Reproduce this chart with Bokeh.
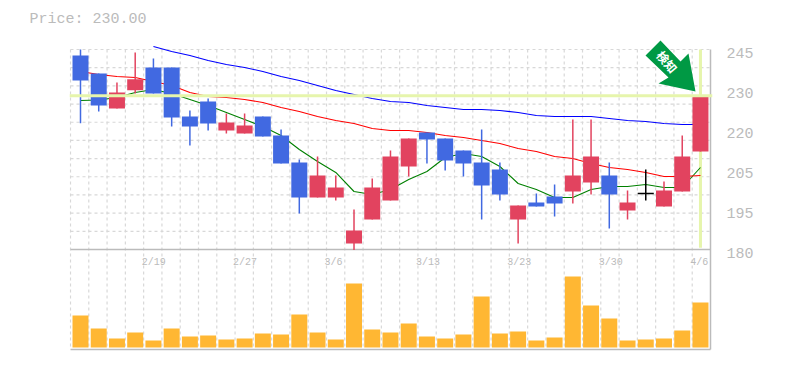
from bokeh.plotting import figure
from bokeh.core.properties import value
from bokeh.models import (ColumnDataSource, Range1d, FixedTicker, LinearAxis, Span,
                          PolyAnnotation, Label)
from bokeh.embed import file_html
from bokeh.resources import INLINE

opens  = [243.05,237.2,225.83,231.77,239.15,239.15,223.23,228.1,218.68,217.7,223.23,217.05,208.28,196.9,196.9,181.95,189.75,195.93,206.98,218.03,216.08,212.18,208.28,206.0,189.75,195.28,197.23,198.85,201.78,204.05,192.68,198.2,193.98,198.85,211.85]
closes = [234.93,226.8,231.03,235.35,230.7,222.9,219.98,220.95,221.28,220.3,216.73,207.95,196.9,204.05,200.15,186.18,200.15,210.23,216.08,215.75,208.93,207.95,200.8,197.88,194.3,193.98,194.95,204.05,210.23,197.88,195.28,198.2,199.18,210.23,230.05]
highs  = [245.0,237.2,234.28,244.03,242.08,239.15,225.18,229.08,224.2,224.2,223.23,219.0,209.25,210.23,204.05,193.0,203.08,212.18,216.08,218.03,216.08,212.18,219.0,208.28,194.3,198.2,201.13,222.25,222.25,208.28,199.18,206.0,202.1,217.05,230.05]
lows   = [221.05,224.85,225.83,230.7,230.7,219.98,213.8,218.68,217.7,217.7,216.73,207.95,191.7,196.9,195.93,179.8,189.75,195.93,203.73,207.95,205.68,203.73,189.75,195.93,181.95,193.98,190.73,194.95,197.88,186.83,189.75,195.93,193.98,198.85,211.85]
volume = [32,19,9,15,7,19,11,12,8,9,14,13,33,15,8,64,18,15,24,11,9,13,51,14,16,7,10,71,42,29,7,8,9,17,45]
ma5  = [228.43,228.59,229.4,231.03,232.0,230.7,228.75,226.8,224.53,222.25,219.98,217.05,212.5,208.6,205.03,198.85,197.88,199.5,202.75,205.35,209.9,211.2,210.23,206.98,201.45,199.5,196.9,196.9,199.5,200.48,200.48,201.13,200.15,200.15,206.65]
ma25 = [237.85,236.88,236.23,235.9,234.6,233.3,231.03,229.73,229.4,228.75,227.78,226.15,224.85,223.23,221.93,220.95,219.33,218.68,218.68,218.03,217.05,216.4,215.43,214.45,212.83,211.85,210.23,209.58,207.95,206.65,206.0,205.03,203.73,203.73,204.05]
ma75 = [245.98,244.35,243.05,241.43,240.13,239.15,237.85,236.23,234.93,233.3,231.68,230.38,229.08,228.1,227.78,226.8,226.15,225.5,225.5,225.18,224.53,223.55,223.23,223.23,223.23,222.58,221.93,221.6,220.95,220.63,220.63]
ma75_start = 4
date_ticks = [4, 9, 14, 19, 24, 29, 34]
date_text = ["2/19", "2/27", "3/6", "3/13", "3/23", "3/30", "4/6"]
price_ticks = {245: "245", 232: "230", 219: "220", 206: "205", 193: "195", 180: "180"}
last_price = 230.0

RED, BLUE, BLACK = "#E2435F", "#4169E1", "#000000"
GREY, GRID, YELLOW = "#BBBBBB", "#D8D8D8", "#E6F5AC"
MONO = "Liberation Mono"

n = len(opens)
colors = [BLACK if c == o else (RED if c > o else BLUE) for o, c in zip(opens, closes)]
idx = list(range(n))

p = figure(frame_width=643, frame_height=312, output_backend="svg", toolbar_location=None,
           x_range=Range1d(-0.0547, 35.109), y_range=Range1d(146.85, 248.25),
           y_axis_location="right", min_border_left=69, min_border_right=0,
           min_border_top=0, min_border_bottom=1, outline_line_color=None,
           background_fill_color="white", border_fill_color="white")
p.title.text = f"Price: {last_price:.2f}"
p.title.text_font = MONO
p.title.text_font_size = "15px"
p.title.text_font_style = "normal"
p.title.text_color = GREY
p.title.offset = -40
p.title.standoff = 20
p.title.align = "left"
p.title.vertical_align = "top"

p.extra_x_ranges["candle"] = Range1d(-0.603, 34.66)
p.extra_y_ranges["vol"] = Range1d(-4, 308)
p.extra_y_ranges["lab"] = Range1d(146.85 + 0.98, 248.25 + 0.98)

p.xgrid.visible = False
p.ygrid.visible = False
p.xaxis.visible = False
p.yaxis.visible = False

# dashed grid
top, mid = 245.0, 180.0
grid_x = list(range(36))
p.segment(x0=grid_x[:-1], x1=grid_x[:-1], y0=[top] * 35, y1=[p.y_range.start + 0.65] * 35,
          line_color=GRID, line_width=1.2, line_dash="3 3")
grid_y = [top - k * (top - mid) / 11 for k in range(11)]
p.segment(x0=[0] * 11, x1=[35] * 11, y0=grid_y, y1=grid_y,
          line_color=GRID, line_width=1.2, line_dash="3 3")

# current price guides
p.add_layout(Span(location=last_price, dimension="width", line_color=YELLOW, line_width=3))
p.segment(x0=[n - 1], x1=[n - 1], y0=[top], y1=[mid + 0.6], line_color=YELLOW, line_width=3,
          x_range_name="candle")

# frame lines
bottom = p.y_range.start + 0.65
p.segment(x0=[0, 0, 35], x1=[35, 35, 35], y0=[mid, bottom, top], y1=[mid, bottom, bottom],
          line_color=GREY, line_width=1.5)

# moving averages
p.line(idx, ma5, line_color="#008000", line_width=1.1, x_range_name="candle")
p.line(idx, ma25, line_color="#FF0000", line_width=1.1, x_range_name="candle")
p.line(idx[ma75_start:], ma75, line_color="#0000FF", line_width=1.1, x_range_name="candle")

# candles
src = ColumnDataSource(dict(x=idx, o=opens, c=closes, h=highs, l=lows, col=colors, v=volume))
p.segment("x", "h", "x", "l", source=src, line_color="col", line_width=1.5, x_range_name="candle")
p.vbar("x", 0.877, "o", "c", source=src, fill_color="col", line_color=None, x_range_name="candle")
doji = [i for i in idx if opens[i] == closes[i]]
p.segment(x0=[i - 0.44 for i in doji], x1=[i + 0.44 for i in doji],
          y0=[opens[i] for i in doji], y1=[opens[i] for i in doji],
          line_color=BLACK, line_width=1.5, x_range_name="candle")

# volume
p.vbar("x", 0.877, 0, "v", source=src, fill_color="#FFB733", line_color=None,
       x_range_name="candle", y_range_name="vol")

# date labels, left aligned on their grid lines just below the price panel
p.text(x=date_ticks, y=[mid] * len(date_ticks), text=date_text, text_align="left",
       text_baseline="middle", x_offset=-2, y_offset=13, text_color=GREY,
       text_font=value(MONO), text_font_size="10px")

yax = LinearAxis(y_range_name="lab", ticker=FixedTicker(ticks=list(price_ticks)),
                 major_label_overrides=price_ticks)
yax.axis_line_color = None
yax.major_tick_line_color = None
yax.minor_tick_line_color = None
yax.major_label_text_color = GREY
yax.major_label_text_font = MONO
yax.major_label_text_font_size = "15px"
yax.major_label_standoff = 8
p.add_layout(yax, "right")

# "detected" arrow badge, placed in frame pixels measured from the frame's lower left corner
arrow_px_x = [591, 576, 599, 589, 626, 619, 611]
arrow_px_y = [311, 296, 274, 268, 260, 298, 290]
p.add_layout(PolyAnnotation(xs=arrow_px_x, ys=arrow_px_y, xs_units="screen", ys_units="screen",
                            fill_color="#009944", fill_alpha=1, line_color=None))
p.add_layout(Label(x=598, y=290, x_units="screen", y_units="screen", text="検知", angle=-50,
                   angle_units="deg", text_color="white", text_font="Noto Sans CJK JP",
                   text_font_size="12px", text_font_style="bold",
                   text_align="center", text_baseline="middle"))

open("out.html", "w").write(file_html(p, INLINE))
